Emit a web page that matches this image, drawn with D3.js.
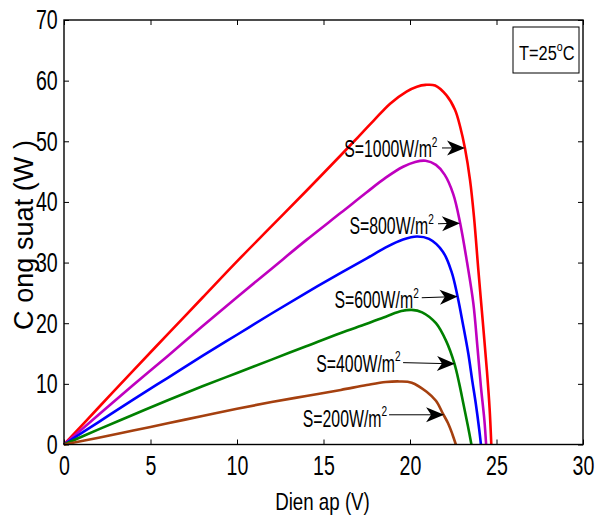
<!DOCTYPE html>
<html>
<head>
<meta charset="utf-8">
<script src="https://cdn.jsdelivr.net/npm/d3@7"></script>
<style>
  body { margin: 0; background: #fff; }
  svg { display: block; font-family: "Liberation Sans", Arial, sans-serif; }
  .curve { fill: none; stroke-width: 2.6; stroke-linejoin: round; }
</style>
</head>
<body>
<svg width="595" height="523"></svg>
<script>
// P-V curves: [voltage (V), power (W)]
const s1000 = [[0,0],[2,6.1],[4,12.2],[6,18.2],[8,24.2],[10,30.2],[12,36.0],[14,41.8],[16,47.7],[17,50.7],[17.9,53.4],[18.85,56.2],[19.8,58.2],[20.4,59.0],[20.9,59.3],[21.45,59.2],[22.1,57.6],[22.6,55.2],[22.9,52.4],[23.18,48.8],[23.47,43.6],[23.7,37.5],[23.95,28.8],[24.2,20.5],[24.45,12.0],[24.6,6],[24.7,0]];
const s800 = [[0,0],[2,4.9],[4,9.8],[6,14.6],[8,19.5],[10,24.3],[12,29.0],[14,33.7],[16,38.2],[17.5,41.6],[18.6,44.0],[19.6,45.8],[20.3,46.6],[20.9,46.8],[21.5,46.1],[22.0,44.5],[22.5,41.3],[22.9,36.5],[23.3,30],[23.66,23.3],[23.9,16],[24.1,9.5],[24.3,4],[24.4,0]];
const s600 = [[0,0],[2,3.7],[4,7.4],[6,11.0],[8,14.6],[10,18.1],[12,21.6],[14,25.0],[16,28.3],[17.5,30.7],[18.6,32.5],[19.6,33.8],[20.4,34.3],[21.1,33.9],[21.9,31.8],[22.4,28.5],[22.75,24.4],[23.05,20],[23.37,15.0],[23.6,10.5],[23.8,6.8],[24.0,2.5],[24.1,0]];
const s400 = [[0,0],[2,2.5],[4,4.9],[6,7.3],[8,9.6],[10,11.8],[12,14.0],[14,16.2],[16,18.4],[17.5,19.9],[18.7,21.2],[19.5,22.0],[20.1,22.2],[20.7,21.8],[21.5,20.0],[22.1,17],[22.56,13.4],[22.85,10],[23.08,6.8],[23.35,3],[23.55,0]];
const s200 = [[0,0],[2,1.1],[4,2.3],[6,3.5],[8,4.7],[10,5.9],[12,7.0],[14,8.0],[16,9.0],[17.5,9.8],[18.6,10.3],[19.4,10.4],[20.1,10.2],[20.96,8.7],[21.5,7.2],[21.9,5.1],[22.2,3.5],[22.45,1.7],[22.65,0]];

const seriesData = [s1000, s800, s600, s400, s200];
const labels = ["S=1000W/m", "S=800W/m", "S=600W/m", "S=400W/m", "S=200W/m"];
const colors = ["#ff0000", "#bf00bf", "#0000ff", "#008000", "#a5400f"];

// annotation anchors in data units: text start, arrow start, arrow tip
const textAt  = [[16.2,47.4],[16.5,34.7],[15.63,22.5],[14.58,12.0],[13.8,2.9]];
const arrowFrom = [[21.85,48.9],[21.62,36.4],[20.68,24.2],[19.6,13.5],[18.79,4.9]];
const arrowTo   = [[23.18,48.9],[22.89,36.5],[22.76,24.4],[22.6,13.3],[21.97,4.9]];

const xTicks = [0, 5, 10, 15, 20, 25, 30];
const yTicks = [0, 10, 20, 30, 40, 50, 60, 70];

const svg = d3.select("svg");
const plotLeft = 64, plotRight = 583, plotTop = 20, plotBottom = 444.5;

const x = d3.scaleLinear().domain([0, 30]).range([plotLeft, plotRight]);
const y = d3.scaleLinear().domain([0, 70]).range([plotBottom, plotTop]);

// axes: inward ticks on all four sides
svg.append("g")
    .attr("transform", `translate(0,${plotBottom})`)
    .call(d3.axisBottom(x).tickValues(xTicks).tickSizeInner(-5).tickSizeOuter(0).tickPadding(11));
svg.append("g")
    .attr("transform", `translate(${plotLeft},0)`)
    .call(d3.axisLeft(y).tickValues(yTicks).tickSizeInner(-5).tickSizeOuter(0).tickPadding(9));
svg.append("g")
    .attr("transform", `translate(0,${plotTop})`)
    .call(d3.axisTop(x).tickValues(xTicks).tickSizeInner(-5).tickSizeOuter(0).tickFormat(""));
svg.append("g")
    .attr("transform", `translate(${plotRight},0)`)
    .call(d3.axisRight(y).tickValues(yTicks).tickSizeInner(-5).tickSizeOuter(0).tickFormat(""));

svg.selectAll(".domain").remove();
svg.selectAll(".tick line").attr("stroke", "#000").attr("stroke-width", 1);
svg.selectAll(".tick text")
    .attr("fill", "#000")
    .style("font-size", "28px")
    .attr("transform", "scale(0.7,1)");

// curves
const line = d3.line()
    .x(d => x(d[0]))
    .y(d => y(d[1]))
    .curve(d3.curveCatmullRom.alpha(0.5));

svg.append("g")
    .selectAll("path")
    .data(seriesData)
    .join("path")
    .attr("class", "curve")
    .attr("stroke", (d, i) => colors[i])
    .attr("d", line);

// frame
svg.append("rect")
    .attr("x", plotLeft).attr("y", plotTop)
    .attr("width", plotRight - plotLeft).attr("height", plotBottom - plotTop)
    .attr("fill", "none")
    .attr("stroke", "#000")
    .attr("stroke-width", 1.4);

// annotations
const ann = svg.append("g");
labels.forEach((lab, i) => {
    const t = ann.append("text")
        .attr("transform", `translate(${x(textAt[i][0])},${y(textAt[i][1])}) scale(0.72,1.05)`)
        .style("font-size", "22px");
    t.append("tspan").text(lab);
    t.append("tspan").attr("dy", -10).style("font-size", "14px").text("2");

    const x0 = x(arrowFrom[i][0]), y0 = y(arrowFrom[i][1]);
    const x1 = x(arrowTo[i][0]), y1 = y(arrowTo[i][1]);
    const ang = Math.atan2(y1 - y0, x1 - x0);
    ann.append("line")
        .attr("x1", x0).attr("y1", y0)
        .attr("x2", x1 - 12 * Math.cos(ang))
        .attr("y2", y1 - 12 * Math.sin(ang))
        .attr("stroke", "#000").attr("stroke-width", 1);
    ann.append("path")
        .attr("transform", `translate(${x1},${y1}) rotate(${ang * 180 / Math.PI})`)
        .attr("d", "M0,0 L-18,-7.5 L-13,0 L-18,7.5 Z")
        .attr("fill", "#000");
});

// temperature box
const box = svg.append("g").attr("transform", `translate(${plotRight - 70},${plotTop + 7})`);
box.append("rect")
    .attr("width", 66).attr("height", 46)
    .attr("fill", "#fff").attr("stroke", "#000").attr("stroke-width", 1);
const tt = box.append("text")
    .attr("transform", "translate(6,33) scale(0.82,1.05)")
    .style("font-size", "20px");
tt.append("tspan").text("T=25");
tt.append("tspan").attr("dy", -9).style("font-size", "13px").text("o");
tt.append("tspan").attr("dy", 9).text("C");

// axis titles
svg.append("text")
    .attr("transform", `translate(${(plotLeft + plotRight) / 2 - 1},510) scale(0.78,1)`)
    .attr("text-anchor", "middle")
    .style("font-size", "24px")
    .text("Dien ap (V)");

svg.append("text")
    .attr("transform", "translate(33,235) rotate(-90)")
    .attr("text-anchor", "middle")
    .attr("textLength", 190)
    .attr("lengthAdjust", "spacing")
    .style("font-size", "27px")
    .text("C ong suat (W )");
</script>
</body>
</html>
